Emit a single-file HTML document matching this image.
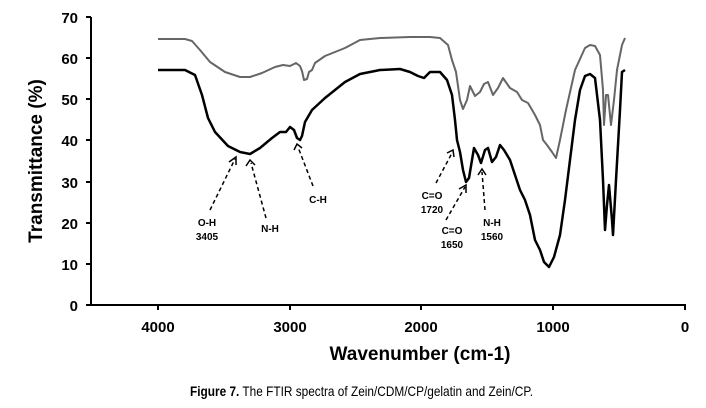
<!DOCTYPE html>
<html><head><meta charset="utf-8"><style>
html,body{margin:0;padding:0;background:#fff;}
svg{display:block;}
</style></head><body>
<svg width="706" height="408" viewBox="0 0 706 408" xmlns="http://www.w3.org/2000/svg" font-family="Liberation Sans, DejaVu Sans, sans-serif">
<rect width="706" height="408" fill="#fff"/>
<line x1="91" y1="17" x2="91" y2="306" stroke="#000" stroke-width="2"/>
<line x1="86" y1="305" x2="686" y2="305" stroke="#000" stroke-width="2"/>
<g stroke="#000" stroke-width="2">
<line x1="86" y1="17" x2="91" y2="17"/><line x1="86" y1="58" x2="91" y2="58"/><line x1="86" y1="99" x2="91" y2="99"/><line x1="86" y1="140" x2="91" y2="140"/><line x1="86" y1="182" x2="91" y2="182"/><line x1="86" y1="223" x2="91" y2="223"/><line x1="86" y1="264" x2="91" y2="264"/>
<line x1="158" y1="305" x2="158" y2="310"/><line x1="290" y1="305" x2="290" y2="310"/><line x1="421" y1="305" x2="421" y2="310"/><line x1="553" y1="305" x2="553" y2="310"/><line x1="685" y1="305" x2="685" y2="310"/>
</g>
<g font-weight="bold" font-size="15" text-anchor="end">
<text x="78" y="23">70</text><text x="78" y="64">60</text><text x="78" y="105">50</text><text x="78" y="146">40</text><text x="78" y="188">30</text><text x="78" y="229">20</text><text x="78" y="270">10</text><text x="78" y="311">0</text>
</g>
<g font-weight="bold" font-size="15" text-anchor="middle">
<text x="158" y="332">4000</text><text x="290" y="332">3000</text><text x="421" y="332">2000</text><text x="553" y="332">1000</text><text x="685" y="332">0</text>
</g>
<text x="420" y="360" font-weight="bold" font-size="19" text-anchor="middle">Wavenumber (cm-1)</text>
<text transform="translate(42,161) rotate(-90)" font-weight="bold" font-size="19" text-anchor="middle">Transmittance (%)</text>
<polyline fill="none" stroke="#666" stroke-width="2" stroke-linejoin="round" points="158,39 185,39 192,41 200,50 210,62 225,72 240,77 250,77 262,73 275,67 283,65 290,66 296,63 300,66 302,71 304,80 307,79 309,72 312,70 315,63 325,56 345,48 360,40 380,38 410,37 430,37 440,38 448,45 452,60 456,72 460,100 463,109 467,100 470,86 475,96 480,92 484,84 488,82 493,95 498,88 503,78 510,88 517,92 522,100 528,103 535,115 540,125 543,140 547,145 552,152 556,158 560,140 566,110 575,70 585,48 590,45 595,46 600,55 603,90 604,125 606,95 608,95 611,125 614,100 617,70 622,45 625,38"/>
<polyline fill="none" stroke="#000" stroke-width="2.5" stroke-linejoin="round" points="158,70 185,70 195,75 202,95 208,118 215,132 228,146 240,152 250,154 260,148 272,138 280,132 286,132 290,127 294,130 297,138 300,140 302,136 305,122 312,110 325,98 345,82 360,74 380,70 400,69 410,72 418,76 424,78 430,72 440,72 447,80 452,95 455,120 457,140 460,152 463,170 466,182 469,178 472,160 474,148 478,155 481,163 485,150 488,148 492,162 496,157 500,145 504,150 510,160 515,175 520,190 525,200 530,215 535,240 540,250 544,262 549,267 554,257 560,235 565,200 570,160 575,120 580,90 585,76 590,74 595,78 600,120 603,180 605,230 607,205 609,185 612,220 613,235 616,180 620,110 622,72 625,70"/>
<g stroke="#000" stroke-width="1.5" stroke-dasharray="4,3" fill="none">
<line x1="210" y1="210" x2="235" y2="159"/>
<line x1="266" y1="218" x2="251" y2="163"/>
<line x1="313" y1="186" x2="298" y2="147"/>
<line x1="436" y1="183" x2="452" y2="153"/>
<line x1="446" y1="220" x2="465" y2="187"/>
<line x1="485" y1="210" x2="482" y2="172"/>
</g>
<g stroke="#000" stroke-width="1.5" fill="none">
<polyline points="229,162 236,157 236,165"/>
<polyline points="246,166 250,160 255,165"/>
<polyline points="294,150 297,144 302,148"/>
<polyline points="447,153 453,150 454,157"/>
<polyline points="459,189 466,185 466,193"/>
<polyline points="478,175 482,169 486,175"/>
</g>
<g font-weight="bold" font-size="10" text-anchor="middle">
<text x="207" y="226">O-H</text><text x="207" y="240">3405</text>
<text x="270" y="232">N-H</text>
<text x="318" y="203">C-H</text>
<text x="432" y="199">C=O</text><text x="432" y="213">1720</text>
<text x="452" y="234">C=O</text><text x="452" y="248">1650</text>
<text x="492" y="226">N-H</text><text x="492" y="240">1560</text>
</g>
<text x="190" y="396" font-size="14" textLength="343" lengthAdjust="spacingAndGlyphs"><tspan font-weight="bold">Figure 7.</tspan> The FTIR spectra of Zein/CDM/CP/gelatin and Zein/CP.</text>
</svg>
</body></html>
